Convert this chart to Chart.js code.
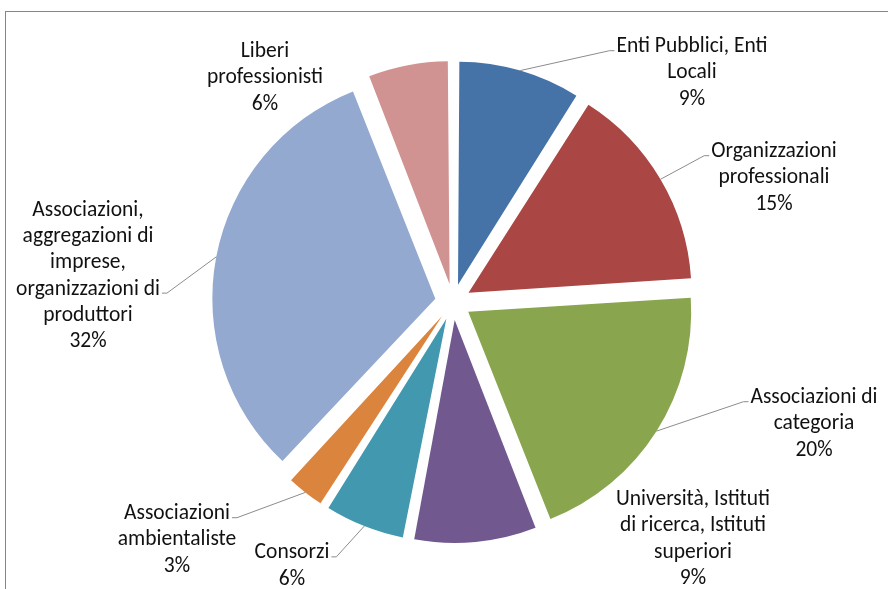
<!DOCTYPE html>
<html>
<head>
<meta charset="utf-8">
<script src="https://cdn.jsdelivr.net/npm/chart.js@4.4.0/dist/chart.umd.min.js"></script>
<style>
  html, body { margin: 0; padding: 0; background: #fff; }
  #wrap { position: relative; width: 888px; height: 589px; overflow: hidden; }
  #frame { position: absolute; left: 5px; top: 11px; width: 900px; height: 600px; border: 1px solid #868686; box-sizing: border-box; }
  canvas { position: absolute; left: 0; top: 0; }
</style>
</head>
<body>
<div id="wrap">
  <div id="frame"></div>
  <canvas id="pie" width="888" height="589"></canvas>
</div>
<script>
// data
const categories = [
  ["Enti Pubblici, Enti", "Locali"],
  ["Organizzazioni", "professionali"],
  ["Associazioni di", "categoria"],
  ["Università, Istituti", "di ricerca, Istituti", "superiori"],
  ["Consorzi"],
  ["Associazioni", "ambientaliste"],
  ["Associazioni,", "aggregazioni di", "imprese,", "organizzazioni di", "produttori"],
  ["Liberi", "professionisti"]
];
const shares = [9, 15, 20, 9, 6, 3, 32, 6];
const sliceColors = ["#4572A7", "#AA4643", "#89A54E", "#71588F", "#4198AF", "#DB843D", "#93A9CF", "#D19392"];

// label block centres relative to the pie centre, and which line the leader attaches to (-1 = no leader)
const labelOffsets = [[239, -229], [321, -124], [361, 122], [240, 237], [-161, 264], [-276, 238], [-365, -26], [-188, -224]];
const leaderLine = [0, 0, 0, -1, 0, 0, 3, -1];

const PIE_R = 223;
const SHIFT = 18;          // explode distance in px (chart.js draws offset / 4)
const FONT = "21.5px Carlito, Lato, sans-serif";
const LINE_H = 26.3;

// chart.js grows small exploded slices a bit; keep every slice the same radius
const equalRadius = {
  id: "equalRadius",
  beforeDatasetDraw(chart) {
    chart.getDatasetMeta(0).data.forEach(arc => {
      const circ = arc.endAngle - arc.startAngle;
      arc.outerRadius = PIE_R - SHIFT * (1 - Math.sin(Math.min(Math.PI, circ)));
    });
  }
};

const sliceLabels = {
  id: "sliceLabels",
  afterDatasetsDraw(chart) {
    const ctx = chart.ctx;
    const meta = chart.getDatasetMeta(0);
    const total = shares.reduce((a, b) => a + b, 0);
    const area = chart.chartArea;
    const cx = (area.left + area.right) / 2;
    const cy = (area.top + area.bottom) / 2;
    ctx.save();
    ctx.font = FONT;
    ctx.textAlign = "center";
    ctx.textBaseline = "middle";
    meta.data.forEach((arc, i) => {
      const lines = categories[i].concat(Math.round(shares[i] / total * 100) + "%");
      const bx = cx + labelOffsets[i][0];
      const top = cy + labelOffsets[i][1] - (lines.length - 1) * LINE_H / 2;
      if (leaderLine[i] >= 0) {
        const h = (arc.startAngle + arc.endAngle) / 2;
        const px = arc.x + Math.cos(h) * (PIE_R + SHIFT);
        const py = arc.y + Math.sin(h) * (PIE_R + SHIFT);
        const ly = top + leaderLine[i] * LINE_H + 4;
        const w = ctx.measureText(lines[leaderLine[i]]).width;
        const right = bx > px;
        const ex = right ? bx - w / 2 - 2 : bx + w / 2 + 2;
        ctx.strokeStyle = "#8c8c8c";
        ctx.lineWidth = 1;
        ctx.beginPath();
        ctx.moveTo(px, py);
        ctx.lineTo(ex + (right ? -5 : 5), ly);
        ctx.lineTo(ex, ly);
        ctx.stroke();
      }
      ctx.fillStyle = "#111";
      lines.forEach((t, k) => ctx.fillText(t, bx, top + k * LINE_H));
    });
    ctx.restore();
  }
};

new Chart(document.getElementById("pie"), {
  type: "pie",
  data: {
    labels: categories,
    datasets: [{
      data: shares,
      backgroundColor: sliceColors,
      borderWidth: 0,
      offset: SHIFT * 4,
      hoverOffset: 0,
      radius: PIE_R
    }]
  },
  options: {
    responsive: false,
    animation: false,
    events: [],
    layout: { padding: { left: 18, top: 15, right: 0, bottom: 0 } },
    plugins: {
      legend: { display: false },
      tooltip: { enabled: false }
    }
  },
  plugins: [equalRadius, sliceLabels]
});
</script>
</body>
</html>
